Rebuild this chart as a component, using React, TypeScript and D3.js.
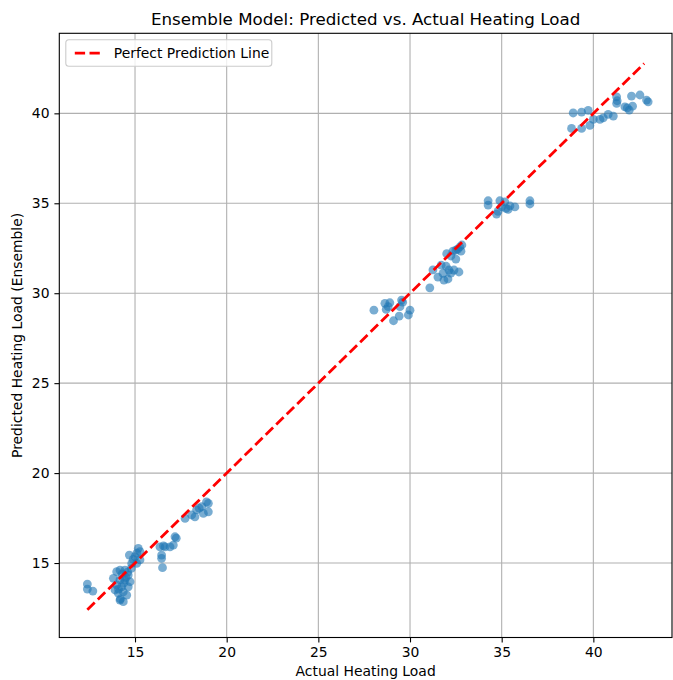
import React, {useEffect, useRef} from "react";
import * as d3 from "d3";

// Actual vs predicted heating load
const actual = [
    12.4, 12.4, 12.7,
    14.69, 15.18, 15.27, 15.0, 15.27, 15.09, 14.82, 14.18, 14.0, 14.45, 14.63, 13.82, 14.18,
    14.45, 14.73, 14.0, 14.27, 14.63, 13.91, 14.36, 14.09, 14.55, 14.18, 14.36, 14.5, 14.3,
    14.1, 14.6, 14.4, 14.2, 14.8, 15.1, 14.9,
    16.36, 16.64, 16.91, 17.09, 17.18, 16.45, 16.45, 16.5, 17.25, 16.55,
    17.73, 18.09, 18.36, 18.64, 19.0, 19.0, 18.73, 18.27, 18.5, 18.9,
    28.03, 28.63, 28.9, 28.81, 29.54, 29.45, 30.0, 29.91, 29.41, 29.1, 29.6, 28.7,
    31.08, 31.25, 31.52, 31.8, 31.85, 32.07, 32.12, 32.23, 32.4, 32.23, 32.34, 32.5, 32.72,
    32.78, 32.83, 32.67, 32.5, 31.7, 31.97, 32.0, 32.6,
    34.26, 34.26, 34.72, 34.9, 35.0, 35.23, 35.45, 35.72, 36.54, 36.54, 35.17, 35.35, 34.8,
    38.81, 38.9, 39.36, 39.36, 39.72, 39.81, 40.0, 40.36, 40.54, 40.81, 41.09, 41.27, 41.27,
    41.3, 41.72, 41.96, 42.14, 42.08, 42.54, 42.9, 42.99, 41.85
];
const predicted = [
    13.83, 13.55, 13.44,
    15.44, 15.82, 15.63, 15.35, 15.17, 14.98, 14.98, 14.61, 14.52, 14.61, 14.33, 14.15, 14.06,
    14.06, 13.96, 13.78, 13.68, 13.68, 13.5, 13.4, 13.32, 13.22, 12.94, 12.85, 14.2, 14.4,
    13.55, 14.5, 13.9, 13.0, 14.7, 15.55, 15.2,
    15.9, 15.9, 15.9, 16.0, 16.46, 15.44, 15.26, 14.74, 16.38, 15.95,
    17.48, 17.67, 17.95, 18.13, 18.32, 17.85, 17.76, 17.57, 18.05, 18.4,
    29.06, 29.44, 29.47, 29.25, 29.62, 29.25, 29.06, 28.79, 28.73, 28.47, 29.5, 29.1,
    30.3, 31.3, 30.9, 31.1, 30.73, 30.79, 31.29, 31.12, 31.29, 32.07, 32.34, 32.4, 32.57,
    32.34, 32.68, 31.18, 31.9, 31.56, 31.5, 32.2, 32.45,
    35.14, 34.9, 34.4, 35.14, 34.8, 34.72, 34.85, 34.8, 35.14, 34.96, 35.08, 34.66, 34.55,
    39.16, 40.02, 39.16, 40.07, 40.16, 39.33, 39.66, 39.66, 39.75, 39.94, 39.85, 40.55, 40.92,
    40.7, 40.36, 40.18, 40.4, 40.96, 41.02, 40.74, 40.64, 40.3
];
// y = x reference line, from min to max actual load
const lineRange = [12.4, 42.77];

const xTicks = [15, 20, 25, 30, 35, 40];
const yTicks = [15, 20, 25, 30, 35, 40];

export default function App() {
    const ref = useRef<SVGSVGElement>(null);
    const width = 673, height = 680;
    const margin = {left: 59.3, right: 1, top: 33.3, bottom: 42.5};

    useEffect(() => {
        const svg = d3.select(ref.current);
        svg.selectAll("*").remove();
        const font = "'DejaVu Sans', sans-serif";

        const x = d3.scaleLinear().domain([10.87, 44.29]).range([margin.left, width - margin.right]);
        const y = d3.scaleLinear().domain([10.86, 44.45]).range([height - margin.bottom, margin.top]);
        const x0 = margin.left, x1 = width - margin.right;
        const y0 = height - margin.bottom, y1 = margin.top;

        // grid
        const grid = svg.append("g").attr("stroke", "#b0b0b0").attr("stroke-width", 1.1);
        grid.selectAll(".gx").data(xTicks).join("line")
            .attr("x1", d => x(d)).attr("x2", d => x(d)).attr("y1", y0).attr("y2", y1);
        grid.selectAll(".gy").data(yTicks).join("line")
            .attr("y1", d => y(d)).attr("y2", d => y(d)).attr("x1", x0).attr("x2", x1);

        // scatter points
        svg.append("g")
            .selectAll("circle")
            .data(actual.map((a, i) => [a, predicted[i]]))
            .join("circle")
            .attr("cx", d => x(d[0]))
            .attr("cy", d => y(d[1]))
            .attr("r", 4.4)
            .attr("fill", "#1f77b4")
            .attr("fill-opacity", 0.6);

        // perfect prediction line
        svg.append("line")
            .attr("x1", x(lineRange[0])).attr("y1", y(lineRange[0]))
            .attr("x2", x(lineRange[1])).attr("y2", y(lineRange[1]))
            .attr("stroke", "red").attr("stroke-width", 2.8)
            .attr("stroke-dasharray", "10.3,4.4");

        // axes
        const xAxis = svg.append("g").attr("transform", `translate(0,${y0})`)
            .call(d3.axisBottom(x).tickValues(xTicks).tickSize(4.9).tickPadding(4.9));
        const yAxis = svg.append("g").attr("transform", `translate(${x0},0)`)
            .call(d3.axisLeft(y).tickValues(yTicks).tickSize(4.9).tickPadding(4.9));
        [xAxis, yAxis].forEach(a => {
            a.select(".domain").remove();
            a.selectAll("line").attr("stroke", "#000").attr("stroke-width", 1.1);
            a.selectAll("text").attr("font-family", font).attr("font-size", 13.9).attr("fill", "#000");
        });

        // spines
        svg.append("rect")
            .attr("x", x0).attr("y", y1).attr("width", x1 - x0).attr("height", y0 - y1)
            .attr("fill", "none").attr("stroke", "#000").attr("stroke-width", 1.1);

        // labels
        svg.append("text")
            .attr("x", (x0 + x1) / 2).attr("y", 24.5)
            .attr("text-anchor", "middle")
            .attr("font-family", font).attr("font-size", 16.7)
            .text("Ensemble Model: Predicted vs. Actual Heating Load");
        svg.append("text")
            .attr("x", (x0 + x1) / 2).attr("y", 676)
            .attr("text-anchor", "middle")
            .attr("font-family", font).attr("font-size", 13.9)
            .text("Actual Heating Load");
        svg.append("text")
            .attr("transform", `translate(22,${(y0 + y1) / 2}) rotate(-90)`)
            .attr("text-anchor", "middle")
            .attr("font-family", font).attr("font-size", 13.9)
            .text("Predicted Heating Load (Ensemble)");

        // legend
        const lg = svg.append("g").attr("transform", `translate(${x0 + 6.5},${y1 + 6.5})`);
        lg.append("rect")
            .attr("width", 206).attr("height", 26.5).attr("rx", 3)
            .attr("fill", "#fff").attr("fill-opacity", 0.8)
            .attr("stroke", "#cccccc").attr("stroke-width", 1.1);
        lg.append("line")
            .attr("x1", 9).attr("x2", 37).attr("y1", 13.3).attr("y2", 13.3)
            .attr("stroke", "red").attr("stroke-width", 2.8)
            .attr("stroke-dasharray", "10.3,4.4");
        lg.append("text")
            .attr("x", 48).attr("y", 18)
            .attr("font-family", font).attr("font-size", 13.9)
            .text("Perfect Prediction Line");
    }, []);

    return (
        <svg ref={ref} width={width} height={height}
             style={{position: "absolute", left: 0, top: 0, background: "#fff"}} />
    );
}
